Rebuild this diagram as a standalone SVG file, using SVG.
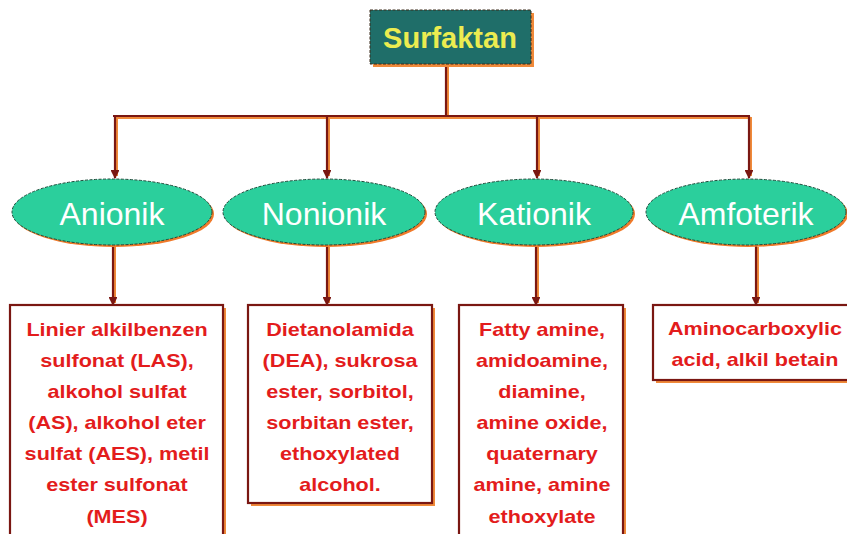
<svg xmlns="http://www.w3.org/2000/svg" width="847" height="534" viewBox="0 0 847 534">
<style>
.conn{fill:none;stroke:#7a1712;stroke-width:2.2}
.shadowline{fill:none;stroke:#f08a3a;stroke-width:2}
.ell{fill:#2bcf9c;stroke:#1f4a3a;stroke-width:1;stroke-dasharray:3 1.5}
.ellsh{fill:#f07a2a}
.box{fill:#ffffff;stroke:#7a1712;stroke-width:2.2}
.boxsh{fill:#f08a3a}
.etext{font-family:"Liberation Sans",Arial,sans-serif;font-size:32px;fill:#ffffff;text-anchor:middle}
.btext{font-family:"Liberation Sans",Arial,sans-serif;font-size:18px;font-weight:bold;fill:#e31c1c;text-anchor:middle}
</style>
<defs>
<marker id="arr" viewBox="0 0 10 10" refX="9" refY="5" markerWidth="4" markerHeight="4" orient="auto">
<path d="M0,0 L10,5 L0,10 z" fill="#7a1712"/>
</marker>
</defs>
<rect width="847" height="534" fill="#ffffff"/>

<g id="connectors">
<g>
<path class="shadowline" d="M448,66 V118 M115,118 H752 M117,118 V176 M329,118 V176 M539,118 V176 M751,118 V176"/>
<path class="shadowline" d="M115,247 V303 M329,247 V303 M538,247 V303 M758,247 V303"/>
</g>
<path class="conn" d="M446,64 V116 M113,116 H750"/>
<path class="conn" marker-end="url(#arr)" d="M115,116 V178"/>
<path class="conn" marker-end="url(#arr)" d="M327,116 V178"/>
<path class="conn" marker-end="url(#arr)" d="M537,116 V178"/>
<path class="conn" marker-end="url(#arr)" d="M749,116 V178"/>
<path class="conn" marker-end="url(#arr)" d="M113,245 V305"/>
<path class="conn" marker-end="url(#arr)" d="M327,245 V305"/>
<path class="conn" marker-end="url(#arr)" d="M536,245 V305"/>
<path class="conn" marker-end="url(#arr)" d="M756,245 V305"/>
</g>

<g id="surfaktan">
<rect x="373" y="13" width="161" height="54" fill="#f08a3a"/>
<rect x="370" y="10" width="161" height="54" fill="#1f6e69" stroke="#3a2a1a" stroke-width="1" stroke-dasharray="3 1.5"/>
<text x="450" y="48" font-family="'Liberation Sans',Arial,sans-serif" font-size="29" font-weight="bold" fill="#ecec50" text-anchor="middle">Surfaktan</text>
</g>

<g id="anionik">
<ellipse class="ellsh" cx="114" cy="214" rx="100" ry="33"/>
<ellipse class="ell" cx="112" cy="212" rx="100" ry="33"/>
<text class="etext" x="112" y="225">Anionik</text>
</g>
<g id="nonionik">
<ellipse class="ellsh" cx="326" cy="214" rx="101" ry="33"/>
<ellipse class="ell" cx="324" cy="212" rx="101" ry="33"/>
<text class="etext" x="324" y="225">Nonionik</text>
</g>
<g id="kationik">
<ellipse class="ellsh" cx="536" cy="214" rx="99" ry="33"/>
<ellipse class="ell" cx="534" cy="212" rx="99" ry="33"/>
<text class="etext" x="534" y="225">Kationik</text>
</g>
<g id="amfoterik">
<ellipse class="ellsh" cx="748" cy="214" rx="100" ry="33"/>
<ellipse class="ell" cx="746" cy="212" rx="100" ry="33"/>
<text class="etext" x="746" y="225">Amfoterik</text>
</g>

<g id="box-anionik">
<rect class="boxsh" x="13" y="308" width="213" height="240"/>
<rect class="box" x="10" y="305" width="213" height="240"/>
<g transform="translate(117,0) scale(1.2,1)">
<text class="btext" x="0" y="336">Linier alkilbenzen</text>
<text class="btext" x="0" y="367">sulfonat (LAS),</text>
<text class="btext" x="0" y="398">alkohol sulfat</text>
<text class="btext" x="0" y="429">(AS), alkohol eter</text>
<text class="btext" x="0" y="460">sulfat (AES), metil</text>
<text class="btext" x="0" y="491">ester sulfonat</text>
<text class="btext" x="0" y="523">(MES)</text>
</g>
</g>

<g id="box-nonionik">
<rect class="boxsh" x="251" y="308" width="184" height="198"/>
<rect class="box" x="248" y="305" width="184" height="198"/>
<g transform="translate(340,0) scale(1.2,1)">
<text class="btext" x="0" y="336">Dietanolamida</text>
<text class="btext" x="0" y="367">(DEA), sukrosa</text>
<text class="btext" x="0" y="398">ester, sorbitol,</text>
<text class="btext" x="0" y="429">sorbitan ester,</text>
<text class="btext" x="0" y="460">ethoxylated</text>
<text class="btext" x="0" y="491">alcohol.</text>
</g>
</g>

<g id="box-kationik">
<rect class="boxsh" x="462" y="308" width="164" height="240"/>
<rect class="box" x="459" y="305" width="164" height="240"/>
<g transform="translate(542,0) scale(1.2,1)">
<text class="btext" x="0" y="336">Fatty amine,</text>
<text class="btext" x="0" y="367">amidoamine,</text>
<text class="btext" x="0" y="398">diamine,</text>
<text class="btext" x="0" y="429">amine oxide,</text>
<text class="btext" x="0" y="460">quaternary</text>
<text class="btext" x="0" y="491">amine, amine</text>
<text class="btext" x="0" y="523">ethoxylate</text>
</g>
</g>

<g id="box-amfoterik">
<rect class="boxsh" x="656" y="308" width="200" height="75"/>
<rect class="box" x="653" y="305" width="200" height="75"/>
<g transform="translate(755,0) scale(1.2,1)">
<text class="btext" x="0" y="335">Aminocarboxylic</text>
<text class="btext" x="0" y="366">acid, alkil betain</text>
</g>
</g>
</svg>
